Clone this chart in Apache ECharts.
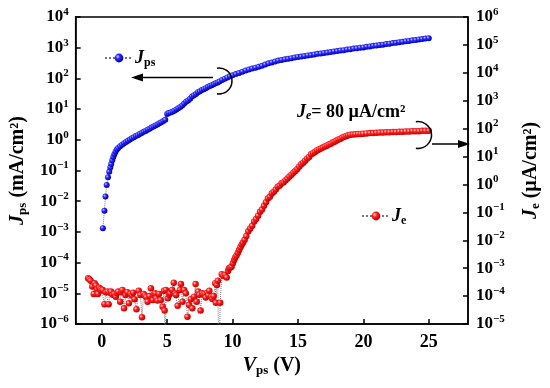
<!DOCTYPE html>
<html>
<head>
<meta charset="utf-8">
<script src="https://cdn.jsdelivr.net/npm/echarts@6/dist/echarts.min.js"></script>
<style>html,body{margin:0;padding:0;background:#fff}#c{width:550px;height:388px}</style>
</head>
<body>
<div id="c"></div>
<script>
// ---------- data ----------
// J_ps (mA/cm^2) vs V_ps (V)
const jpsV = [0.08,0.20,0.28,0.37,0.47,0.57,0.65,0.72,0.80,0.88,0.96,1.05,1.15,1.25,1.4,1.55,1.7,1.85,2.0,2.15,2.3,2.45,2.6,2.75,2.9,3.05,3.2,3.35,3.5,3.65,3.8,3.95,4.1,4.25,4.4,4.55,4.7,4.85,5.0,5.1,5.25,5.4,5.55,5.7,5.85,6.0,6.15,6.3,6.45,6.6,6.75,6.9,7.05,7.2,7.35,7.5,7.65,7.8,7.95,8.1,8.25,8.4,8.55,8.7,8.85,9.0,9.2,9.4,9.6,9.8,10.0,10.25,10.5,10.75,11.0,11.25,11.5,11.75,12.0,12.25,12.5,12.75,13.0,13.25,13.5,13.75,14.0,14.25,14.5,14.75,15.0,15.25,15.5,15.75,16.0,16.25,16.5,16.75,17.0,17.25,17.5,17.75,18.0,18.25,18.5,18.75,19.0,19.25,19.5,19.75,20.0,20.25,20.5,20.75,21.0,21.25,21.5,21.75,22.0,22.25,22.5,22.75,23.0,23.25,23.5,23.75,24.0,24.25,24.5,24.75,25.0];
const jpsVal = [1.32e-3,4.9e-3,0.0141,0.0339,0.0603,0.0912,0.126,0.162,0.214,0.275,0.339,0.407,0.479,0.537,0.617,0.692,0.776,0.851,0.933,1.02,1.12,1.20,1.32,1.41,1.55,1.66,1.82,1.95,2.14,2.29,2.51,2.69,2.95,3.16,3.47,3.72,4.07,4.47,6.92,7.41,7.76,8.13,8.91,9.77,10.7,11.7,13.2,15.1,17.4,19.1,21.9,25.7,28.2,30.9,35.5,38.0,41.7,44.7,47.9,52.5,56.2,60.3,64.6,69.2,74.1,79.4,89.1,97.7,107,117,126,138,151,166,182,195,209,224,240,257,282,309,331,355,380,398,417,437,457,479,501,513,537,562,575,603,631,646,676,692,724,759,776,813,832,871,891,933,955,1000,1023,1072,1096,1148,1175,1230,1259,1318,1349,1413,1445,1514,1549,1622,1660,1738,1778,1862,1905,1995,2042];
// J_e (µA/cm^2) vs V_ps (V)
const jeV = [-1.05,-0.95,-0.85,-0.73,-0.62,-0.55,-0.45,-0.35,-0.3,-0.2,-0.1,0.0,0.07,0.2,0.3,0.45,0.52,0.6,0.7,0.82,0.95,1.07,1.15,1.25,1.4,1.5,1.57,1.7,1.82,1.95,2.07,2.2,2.3,2.4,2.5,2.65,2.82,2.95,3.07,3.2,3.3,3.4,3.5,3.65,3.75,3.9,4.0,4.07,4.15,4.25,4.37,4.5,4.65,4.75,4.8,4.85,4.9,5.05,5.15,5.22,5.37,5.5,5.6,5.67,5.8,5.97,6.05,6.17,6.3,6.42,6.55,6.67,6.8,6.92,7.05,7.17,7.25,7.37,7.45,7.55,7.67,7.77,7.87,7.95,8.05,8.15,8.22,8.37,8.45,8.55,8.67,8.72,8.8,8.87,8.95,9.05,9.17,9.3,9.42,9.55,9.65,9.72,9.82,9.92,10.02,10.12,10.2,10.3,10.4,10.5,10.6,10.7,10.8,10.92,11.05,11.2,11.35,11.5,11.65,11.8,11.95,12.1,12.25,12.4,12.55,12.7,12.85,13.0,13.15,13.3,13.45,13.6,13.75,13.9,14.05,14.2,14.35,14.5,14.65,14.8,14.95,15.1,15.25,15.4,15.55,15.7,15.85,16.0,16.15,16.3,16.45,16.6,16.75,16.9,17.05,17.2,17.35,17.5,17.65,17.8,17.95,18.1,18.25,18.4,18.55,18.7,18.85,19.0,19.2,19.4,19.6,19.8,20.0,20.25,20.5,20.75,21.0,21.25,21.5,21.75,22.0,22.25,22.5,22.75,23.0,23.25,23.5,23.75,24.0,24.25,24.5,24.75,25.0];
const jeVal = [4.37e-4,3.98e-4,3.55e-4,2.19e-4,1.20e-4,2.88e-4,2.40e-4,1.74e-4,1.20e-4,2.0e-4,1.78e-4,1.58e-4,1.66e-4,5.13e-5,1.38e-4,1.45e-4,5.13e-5,1.32e-4,1.45e-4,1.12e-4,1.20e-4,9.55e-5,1.26e-4,1.45e-4,6.31e-5,1.38e-4,1.66e-4,3.63e-5,1.10e-4,1.38e-4,5.50e-5,1.20e-4,1.05e-4,1.32e-4,7.76e-5,3.39e-5,1.55e-4,1.10e-4,1.74e-5,1.20e-4,1.05e-4,9.12e-5,6.31e-5,1.0e-4,1.91e-4,7.24e-5,1.10e-4,1.26e-4,8.32e-5,6.92e-5,1.20e-4,7.24e-5,4.17e-5,1.55e-4,3.02e-5,1e-7,1.66e-4,8.32e-5,1.10e-4,1.26e-4,1.66e-4,3.02e-4,1.26e-4,1.10e-4,4.47e-5,1.66e-4,2.69e-4,6.31e-5,1.66e-4,1.26e-4,1.82e-5,4.79e-5,7.76e-5,3.63e-5,9.55e-5,2.69e-4,6.31e-5,1.45e-4,1.12e-4,3.02e-5,1.26e-4,1.15e-4,1.20e-4,8.91e-5,1.32e-4,1.07e-4,1.55e-4,9.55e-5,7.94e-5,1.0e-4,2.88e-4,5.75e-5,2.51e-4,3.55e-4,1e-7,5.75e-5,6.03e-4,5.25e-4,5.75e-4,4.68e-4,7.94e-4,1.0e-3,1.05e-3,1.12e-3,1.51e-3,1.95e-3,2.40e-3,2.82e-3,3.55e-3,4.47e-3,5.62e-3,7.08e-3,8.32e-3,0.0105,0.0141,0.0209,0.0263,0.0331,0.0468,0.0575,0.0759,0.105,0.126,0.174,0.229,0.316,0.363,0.479,0.550,0.661,0.832,0.912,1.10,1.20,1.41,1.62,1.91,2.24,2.63,3.02,3.55,4.37,5.25,6.03,7.08,8.51,9.55,12.0,13.2,14.5,16.6,17.8,19.5,20.9,22.9,24.5,26.9,28.8,31.6,33.9,37.2,40.7,43.7,47.9,51.3,55.0,57.5,60.3,61.7,63.1,64.6,64.6,66.1,67.6,69.2,69.2,70.8,72.4,72.4,74.1,74.1,75.9,75.9,77.6,77.6,79.4,79.4,81.3,81.3,81.3,83.2,83.2,83.2];
const xTicks = [0, 5, 10, 15, 20, 25];
const leftMin = 1e-6, leftMax = 1e4;
const rightMin = 1e-5, rightMax = 1e6;

// ---------- chart ----------
const FF = '"Liberation Serif","Times New Roman",serif';
const chart = echarts.init(document.getElementById('c'), null, {renderer: 'canvas'});

function powLabel(v) {
  const e = Math.round(Math.log10(v));
  const s = e < 0 ? '\u2212' + (-e) : String(e);
  return '{b|10}{e|' + s + '}';
}
const tickRich = {
  b: {fontFamily: FF, fontWeight: 'bold', fontSize: 17, color: '#000'},
  e: {fontFamily: FF, fontWeight: 'bold', fontSize: 11, color: '#000', padding: [0, 0, 10, 0]}
};
const sphere = (hi, mid, lo) => ({
  type: 'radial', x: 0.35, y: 0.35, r: 0.65,
  colorStops: [{offset: 0, color: hi}, {offset: 0.4, color: mid}, {offset: 1, color: lo}]
});
const pairs = (xs, ys) => xs.map((x, i) => [x, ys[i]]);

const nameRich = {
  j: {fontFamily: FF, fontWeight: 'bold', fontStyle: 'italic', fontSize: 20, color: '#000'},
  s: {fontFamily: FF, fontWeight: 'bold', fontSize: 13, color: '#000', padding: [9, 0, 0, 0]},
  t: {fontFamily: FF, fontWeight: 'bold', fontSize: 20, color: '#000'}
};

const legendRich = {
  j: {fontFamily: FF, fontWeight: 'bold', fontStyle: 'italic', fontSize: 18, color: '#000'},
  s: {fontFamily: FF, fontWeight: 'bold', fontSize: 12, color: '#000', padding: [9, 0, 0, 0]}
};

chart.setOption({
  animation: false,
  backgroundColor: '#fff',
  grid: {left: 74, right: 76, top: 17, bottom: 64, show: true, borderColor: '#000', borderWidth: 1.5, backgroundColor: 'transparent'},
  legend: [
    {data: ['Jps'], left: 99, top: 44, itemWidth: 28, itemHeight: 11, itemGap: 0,
     formatter: () => '{j|J}{s|ps}', textStyle: {rich: legendRich, padding: [0, 0, 0, -3]}},
    {data: ['Je'], left: 356, top: 202, itemWidth: 28, itemHeight: 11, itemGap: 0,
     formatter: () => '{j|J}{s|e}', textStyle: {rich: legendRich, padding: [0, 0, 0, -3]}}
  ],
  xAxis: {
    type: 'value', min: -2, max: 28,
    name: '{j|V}{s|ps}{t| (V)}', nameLocation: 'middle', nameGap: 30,
    nameTextStyle: {rich: nameRich},
    axisLine: {onZero: false, lineStyle: {color: '#000', width: 1.5}},
    axisTick: {inside: true, length: 5, customValues: xTicks, lineStyle: {color: '#000', width: 1.5}},
    axisLabel: {customValues: xTicks, margin: 9, fontFamily: FF, fontWeight: 'bold', fontSize: 18, color: '#000'},
    splitLine: {show: false}
  },
  yAxis: [
    {
      type: 'log', logBase: 10, min: leftMin, max: leftMax, interval: 1, position: 'left',
      name: '{j|J}{s|ps}{t| (mA/cm\u00B2)}', nameLocation: 'middle', nameRotate: 90, nameGap: 45,
      nameTextStyle: {rich: nameRich},
      axisLine: {show: true, onZero: false, lineStyle: {color: '#000', width: 1.5}},
      axisTick: {show: true, inside: true, length: 5, lineStyle: {color: '#000', width: 1.5}},
      axisLabel: {margin: 7, formatter: powLabel, rich: tickRich},
      splitLine: {show: false}
    },
    {
      type: 'log', logBase: 10, min: rightMin, max: rightMax, interval: 1, position: 'right',
      name: '{j|J}{s|e}{t| (\u00B5A/cm\u00B2)}', nameLocation: 'middle', nameRotate: 90, nameGap: 52,
      nameTextStyle: {rich: nameRich},
      axisLine: {show: true, onZero: false, lineStyle: {color: '#000', width: 1.5}},
      axisTick: {show: true, inside: true, length: 5, lineStyle: {color: '#000', width: 1.5}},
      axisLabel: {margin: 8, formatter: powLabel, rich: tickRich},
      splitLine: {show: false}
    }
  ],
  series: [
    {
      name: 'Jps', type: 'line', yAxisIndex: 0, data: pairs(jpsV, jpsVal),
      symbol: 'circle', symbolSize: 6, clip: true,
      itemStyle: {color: sphere('#c8c8ff', '#2a2aff', '#0000b0'), borderWidth: 0},
      lineStyle: {type: 'dotted', color: '#777', width: 1}
    },
    {
      name: 'Je', type: 'line', yAxisIndex: 1, data: pairs(jeV, jeVal),
      symbol: 'circle', symbolSize: 6.5, clip: true,
      itemStyle: {color: sphere('#ffd6d6', '#ff2020', '#c00000'), borderWidth: 0},
      lineStyle: {type: 'dotted', color: '#777', width: 1}
    }
  ],
  graphic: [
    {type: 'arc', shape: {cx: 219, cy: 81, r: 13, startAngle: -1.73, endAngle: 1.73, clockwise: true},
     style: {stroke: '#000', lineWidth: 1.5, fill: null}, z: 100},
    {type: 'line', shape: {x1: 213, y1: 77.5, x2: 140, y2: 77.5}, style: {stroke: '#000', lineWidth: 1.5}, z: 100},
    {type: 'polygon', shape: {points: [[131, 77.5], [143, 73.5], [143, 81.5]]}, style: {fill: '#000'}, z: 100},
    {type: 'arc', shape: {cx: 418, cy: 135, r: 13.5, startAngle: -1.73, endAngle: 1.73, clockwise: true},
     style: {stroke: '#000', lineWidth: 1.5, fill: null}, z: 100},
    {type: 'line', shape: {x1: 432, y1: 144, x2: 460, y2: 144}, style: {stroke: '#000', lineWidth: 1.5}, z: 100},
    {type: 'polygon', shape: {points: [[470, 144], [458, 140], [458, 148]]}, style: {fill: '#000'}, z: 100},
    {type: 'text', left: 297, top: 103, z: 100,
     style: {text: '{j|J}{s|e}{t|= 80 \u00B5A/cm\u00B2}',
       rich: {
         j: {fontFamily: FF, fontWeight: 'bold', fontStyle: 'italic', fontSize: 18, fill: '#000'},
         s: {fontFamily: FF, fontStyle: 'italic', fontWeight: 'bold', fontSize: 12, fill: '#000', padding: [8, 0, 0, 0]},
         t: {fontFamily: FF, fontWeight: 'bold', fontSize: 18, fill: '#000'}
       }}}
  ]
});
</script>
</body>
</html>
